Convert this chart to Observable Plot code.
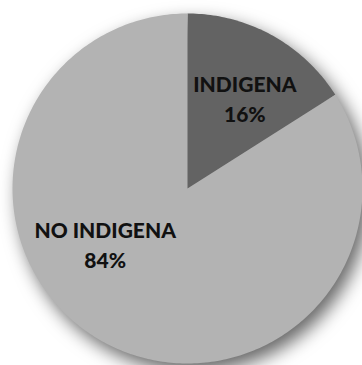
<!DOCTYPE html>
<html>
<head>
<meta charset="utf-8">
<script src="https://cdn.jsdelivr.net/npm/d3@7"></script>
<script src="https://cdn.jsdelivr.net/npm/@observablehq/plot@0.6"></script>
<style>
  html, body { margin: 0; padding: 0; background: #ffffff; }
  #chart svg { display: block; overflow: visible; }
  #chart g[aria-label="line"] { filter: drop-shadow(6px 8px 9px rgba(0,0,0,0.6)); }
</style>
</head>
<body>
<div id="chart"></div>
<script>
const categories = ["INDIGENA", "NO INDIGENA"];
const shares = [16, 84];
const sliceColors = ["#636363", "#b3b3b3"];

const slices = categories.map((c, i) => ({category: c, value: shares[i]}));
const arcs = d3.pie().sort(null).value(d => d.value)(slices);

// Polygon points along each slice outline (angle measured clockwise from 12 o'clock)
const outline = [];
arcs.forEach(a => {
  const cat = a.data.category;
  outline.push({category: cat, x: 0, y: 0});
  const n = Math.max(8, Math.ceil((a.endAngle - a.startAngle) * 60));
  for (let k = 0; k <= n; k++) {
    const t = a.startAngle + (a.endAngle - a.startAngle) * k / n;
    outline.push({category: cat, x: Math.sin(t), y: Math.cos(t)});
  }
});

const labels = arcs.map(a => {
  const mid = (a.startAngle + a.endAngle) / 2;
  return {category: a.data.category, text: `${a.data.category}\n${a.data.value}%`,
          x: 0.68 * Math.sin(mid), y: 0.68 * Math.cos(mid)};
});

const textStyle = {fontFamily: "Lato", fontWeight: 900, fontSize: 21, lineHeight: 1.43, fill: "#111"};

const plot = Plot.plot({
  width: 362,
  height: 365,
  margin: 0,
  x: {domain: [-1, 1], range: [12, 362], axis: null},
  y: {domain: [-1, 1], range: [363, 13], axis: null},
  color: {domain: categories, range: sliceColors},
  style: {background: "transparent"},
  marks: [
    Plot.line(outline, {x: "x", y: "y", z: "category", fill: "category", stroke: "none", curve: "linear-closed"}),
    Plot.text(labels.filter(d => d.category === "INDIGENA"), {
      x: "x", y: "y", text: "text", dx: 0, dy: 13, ...textStyle
    }),
    Plot.text(labels.filter(d => d.category === "NO INDIGENA"), {
      x: "x", y: "y", text: "text", dx: -25, dy: -49, ...textStyle
    })
  ]
});
document.getElementById("chart").appendChild(plot);
</script>
</body>
</html>
